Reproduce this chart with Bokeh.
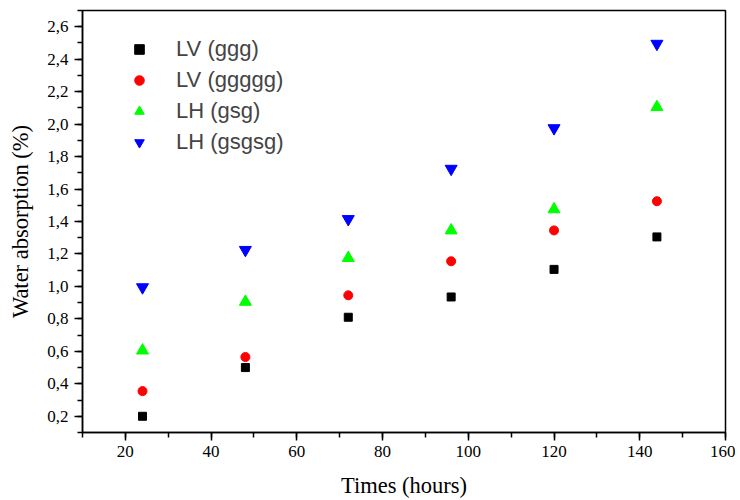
from bokeh.plotting import figure
from bokeh.models import SingleIntervalTicker, CustomJSTickFormatter, Range1d, Legend, LegendItem
from bokeh.embed import file_html
from bokeh.resources import INLINE

times = [24, 48, 72, 96, 120, 144]
lv_ggg = [0.20, 0.50, 0.81, 0.935, 1.105, 1.305]
lv_ggggg = [0.355, 0.565, 0.945, 1.155, 1.345, 1.525]
lh_gsg = [0.605, 0.905, 1.175, 1.345, 1.475, 2.105]
lh_gsgsg = [0.995, 1.225, 1.415, 1.725, 1.975, 2.495]

series_names = ["LV (ggg)", "LV (ggggg)", "LH (gsg)", "LH (gsgsg)"]

p = figure(width=735, height=500, output_backend="svg", toolbar_location=None,
           x_range=Range1d(10, 160), y_range=Range1d(0.1, 2.7),
           min_border_left=82, min_border_right=10, min_border_top=10, min_border_bottom=68)

p.grid.visible = False
p.outline_line_color = "black"
p.outline_line_width = 1.5
p.background_fill_color = "white"
p.border_fill_color = "white"

r1 = p.scatter(times, lv_ggg, marker="square", size=8, color="#000000")
r2 = p.scatter(times, lv_ggggg, marker="circle", size=9, color="#FF0000")
r3 = p.scatter(times, lh_gsg, marker="triangle", size=12, color="#00FF00")
r4 = p.scatter(times, lh_gsgsg, marker="inverted_triangle", size=12, color="#0000FF")

p.xaxis.ticker = SingleIntervalTicker(interval=20, num_minor_ticks=2)
p.yaxis.ticker = SingleIntervalTicker(interval=0.2, num_minor_ticks=2)
p.yaxis.formatter = CustomJSTickFormatter(code="return tick.toFixed(1).replace('.', ',');")

for ax in (p.xaxis[0], p.yaxis[0]):
    ax.axis_line_width = 1.5
    ax.major_tick_line_width = 1.5
    ax.minor_tick_line_width = 1.5
    ax.major_tick_out = 8
    ax.major_tick_in = 0
    ax.minor_tick_out = 5
    ax.minor_tick_in = 0
    ax.major_label_text_font = "Liberation Serif"
    ax.major_label_text_font_size = "17px"
    ax.major_label_text_color = "black"
    ax.axis_label_text_font = "Liberation Serif"
    ax.axis_label_text_font_size = "22.5px"
    ax.axis_label_text_font_style = "normal"
    ax.axis_label_text_color = "black"

p.xaxis.axis_label = "Times (hours)"
p.yaxis.axis_label = "Water absorption (%)"
p.xaxis.major_label_standoff = 5
p.yaxis.major_label_standoff = 6
p.xaxis.axis_label_standoff = 13
p.yaxis.axis_label_standoff = 11

legend = Legend(items=[LegendItem(label=n, renderers=[r]) for n, r in zip(series_names, [r1, r2, r3, r4])],
                location=(42, 277), padding=0, margin=0, spacing=5,
                glyph_width=30, glyph_height=24, label_height=24, label_standoff=22,
                label_text_font="Liberation Sans", label_text_font_size="22px",
                border_line_color=None, background_fill_alpha=0)
p.add_layout(legend)

open("out.html", "w").write(file_html(p, INLINE))
